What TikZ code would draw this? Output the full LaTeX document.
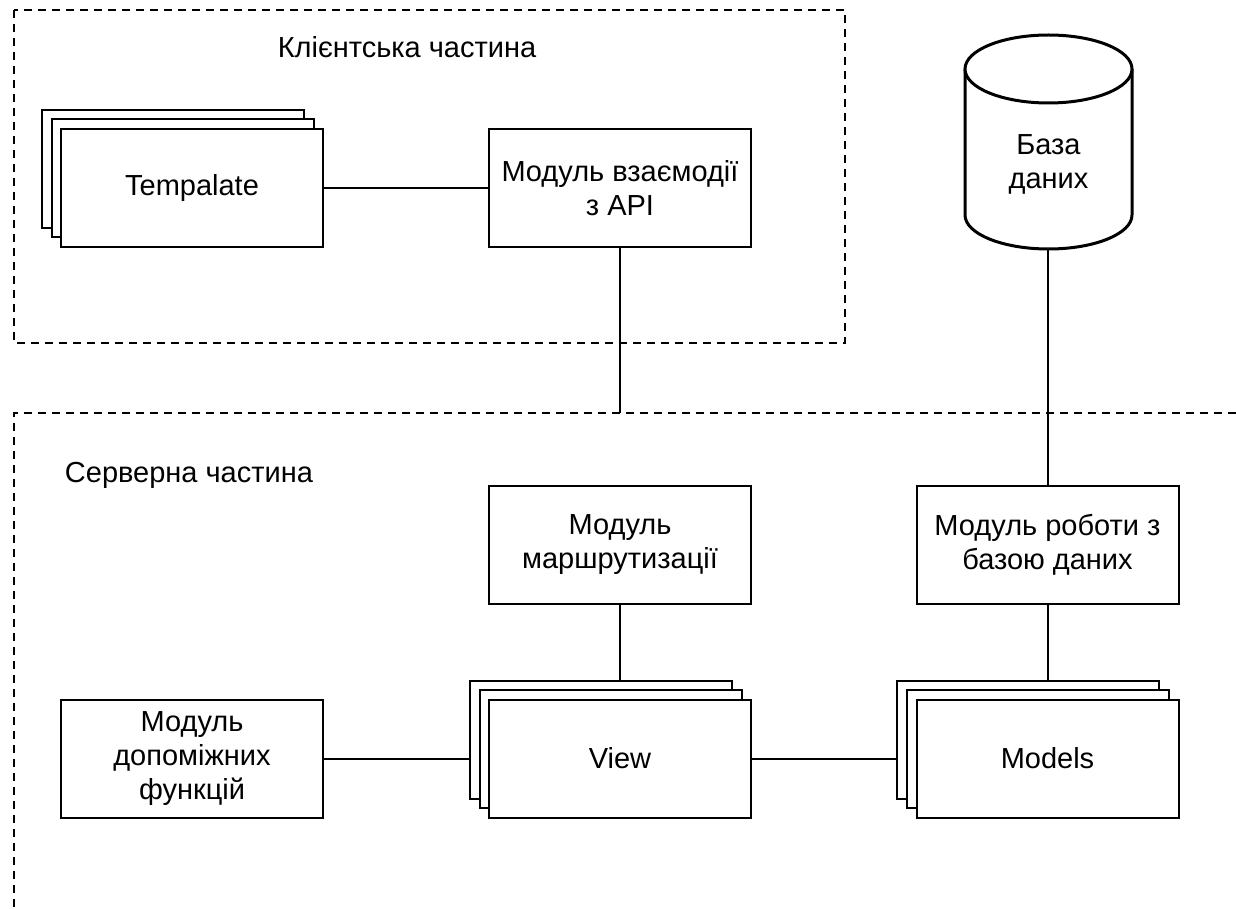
\documentclass[tikz,border=0pt]{standalone}
\usepackage{fontspec}
\setmainfont{Liberation Sans}
\begin{document}
\begin{tikzpicture}[x=1pt,y=-1pt,
  every node/.style={font=\fontsize{29}{34}\selectfont},
  box/.style={draw, line width=2pt, fill=white, minimum width=262pt,
    minimum height=118pt, align=center, inner sep=0pt},
  ghost/.style={box},
  link/.style={line width=2pt},
  zone/.style={line width=2pt, dash pattern=on 8pt off 6pt},
  dbline/.style={line width=3pt},
  label/.style={align=center, inner sep=0pt}]
\useasboundingbox (0,0) rectangle (1236,909);

% zones
\draw[zone] (14,10) rectangle (845,343);
\coordinate (srvTop) at (14,413);
\draw[zone] (1236,413) -- (srvTop) -- (14,909);
\node[label] (clientTitle) at (407,47) {Клієнтська частина};
\node[label] (serverTitle) at (189,475) {Серверна частина};

% client side
\node[ghost] (tplB) at (173,169.5) {};
\node[ghost] (tplM) at (182.5,178.5) {};
\node[box] (tpl) at (192,188) {Tempalate};
\node[box] (api) at (620,188) {Модуль взаємодії\\з API};

% server side
\node[box] (route) at (620,545) {Модуль\\маршрутизації};
\node[box] (dbm) at (1047.5,545) {Модуль роботи з\\базою даних};
\node[box] (helper) at (192,758.5) {Модуль\\допоміжних\\функцій};
\node[ghost] (viewB) at (601,740) {};
\node[ghost] (viewM) at (610.5,749) {};
\node[box] (view) at (620,758.5) {View};
\node[ghost] (modB) at (1028,740) {};
\node[ghost] (modM) at (1038,749) {};
\node[box] (models) at (1047.5,758.5) {Models};

% database
\draw[dbline, fill=white] (965,69) -- (965,215)
  arc[start angle=180, end angle=360, x radius=83.5pt, y radius=34pt] -- (1132,69);
\draw[dbline, fill=white] (1048.5,69) ellipse [x radius=83.5pt, y radius=34pt];
\node[label] (db) at (1048.5,164) {База\\даних};
\coordinate (dbBottom) at (dbm.north |- 0,249);

% connectors
\draw[link] (tpl.east) -- (api.west);
\draw[link] (api.south) -- (api.south |- srvTop);
\draw[link] (dbBottom) -- (dbm.north);
\draw[link] (route.south) -- (route.south |- viewB.north);
\draw[link] (helper.east) -- (helper.east -| viewB.west);
\draw[link] (view.east) -- (view.east -| modB.west);
\draw[link] (dbm.south) -- (dbm.south |- modB.north);
\end{tikzpicture}
\end{document}
